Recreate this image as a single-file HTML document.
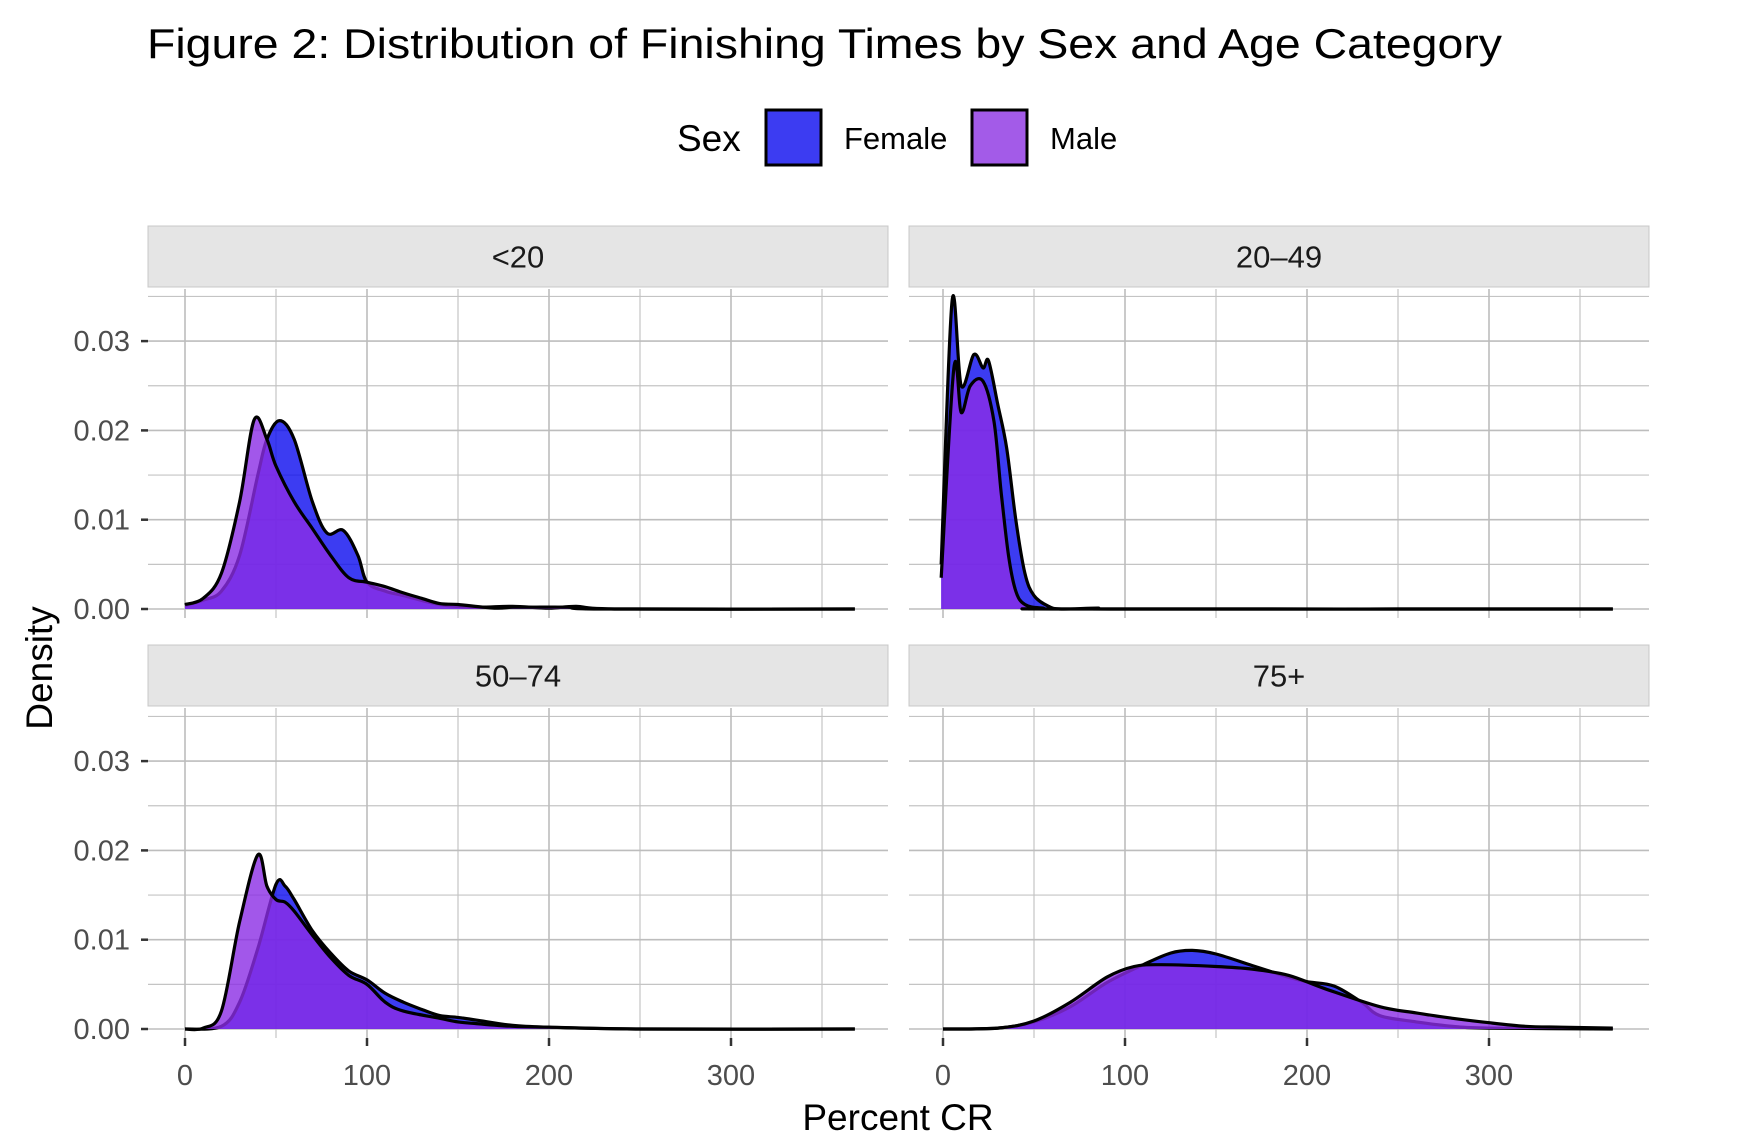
<!DOCTYPE html>
<html><head><meta charset="utf-8"><style>
html,body{margin:0;padding:0;background:#fff;}
svg{display:block;font-family:"Liberation Sans",Arial,sans-serif;}
</style></head><body>
<svg id="chart" width="1760" height="1144" viewBox="0 0 1760 1144" xmlns="http://www.w3.org/2000/svg">
<text x="147" y="58" font-size="42" fill="#000" textLength="1355" lengthAdjust="spacingAndGlyphs">Figure 2: Distribution of Finishing Times by Sex and Age Category</text>
<g>
<text x="677" y="151" font-size="37" fill="#000">Sex</text>
<rect x="766" y="110" width="55" height="55" fill="#3c3cf2" stroke="#000" stroke-width="3"/>
<text x="844" y="149" font-size="31" fill="#000">Female</text>
<rect x="972" y="110" width="55" height="55" fill="#a35be8" stroke="#000" stroke-width="3"/>
<text x="1050" y="149" font-size="31" fill="#000">Male</text>
</g>
<text transform="translate(52,668) rotate(-90)" text-anchor="middle" font-size="37" fill="#000">Density</text>
<text x="898" y="1130" text-anchor="middle" font-size="37" fill="#000">Percent CR</text>
<g id="panels"></g>
</svg>
<script>
const panelNames = ["<20", "20\u201349", "50\u201374", "75+"];
const lt20X = [0,10,20,30,40,45,52,60,70,78,87,95,100,110,120,140,160,180,200,215,240,368];
const lt20F = [0.0004,0.001,0.002,0.006,0.015,0.019,0.0211,0.019,0.012,0.0085,0.0088,0.006,0.003,0.002,0.0015,0.0005,0.0002,0.0003,0.0001,0.0003,0,0];
const lt20MX = [0,10,20,30,38,45,50,60,70,80,90,100,110,120,130,140,150,170,180,190,210,230,368];
const lt20M = [0.0005,0.0012,0.004,0.012,0.0212,0.019,0.016,0.012,0.009,0.006,0.0035,0.003,0.0025,0.0018,0.0012,0.0006,0.0005,0.0001,0.0002,0.0002,0.0002,0,0];
const a20X = [-1,5,10,17,22,25,30,35,40,45,50,58,65,85,100,368];
const a20F = [0.005,0.0345,0.025,0.0285,0.027,0.0278,0.023,0.018,0.010,0.004,0.0015,0.0003,0,0.0001,0,0];
const a20MX = [-1,6,10,15,22,28,32,36,40,45,55,70,368];
const a20M = [0.0035,0.027,0.022,0.025,0.0255,0.021,0.013,0.006,0.002,0.0005,0.0001,0,0];
const a50X = [0,20,30,40,50,55,60,70,80,90,100,110,120,130,140,150,160,180,200,250,368];
const a50F = [0,0.0003,0.003,0.009,0.0162,0.016,0.0145,0.011,0.0085,0.0065,0.0055,0.004,0.003,0.0022,0.0015,0.0013,0.0010,0.0004,0.0002,0,0];
const a50MX = [0,10,20,30,40,45,50,55,60,70,80,90,100,110,120,140,150,160,180,200,250,368];
const a50M = [0,0.0001,0.002,0.012,0.0195,0.016,0.0145,0.0142,0.0132,0.0105,0.008,0.006,0.005,0.003,0.002,0.0012,0.0008,0.0006,0.0003,0.0002,0,0];
const a75X = [0,30,50,70,90,110,125,137,150,170,190,200,215,230,240,260,280,300,368];
const a75F = [0,0.0001,0.0008,0.0025,0.0052,0.0072,0.0085,0.0088,0.0084,0.0071,0.0058,0.0053,0.0048,0.003,0.0015,0.0008,0.0003,0.0001,0];
const a75MX = [0,30,50,70,90,105,120,150,170,190,210,240,260,280,300,320,340,368];
const a75M = [0,0.0001,0.0009,0.003,0.0058,0.007,0.0072,0.007,0.0067,0.006,0.0045,0.0025,0.0018,0.0012,0.0007,0.0003,0.0002,0.0001];
const xTicks = [0,100,200,300];
const xMinor = [50,150,250,350];
const yTicks = [0,0.01,0.02,0.03];
const yTickLabels = ["0.00","0.01","0.02","0.03"];
const yMinor = [0.005,0.015,0.025,0.035];

const NS = "http://www.w3.org/2000/svg";
const root = document.getElementById("panels");
function mk(tag, attrs, parent){const e=document.createElementNS(NS,tag);for(const k in attrs)e.setAttribute(k,attrs[k]);parent.appendChild(e);return e;}
const layout = [
 {x0:148,x1:888,sy0:226,sy1:287,py0:289,py1:618,xZero:185,yZero:609,xdata:[lt20X,lt20MX],ydata:[lt20F,lt20M],left:true,bottom:false},
 {x0:909,x1:1649,sy0:226,sy1:287,py0:289,py1:618,xZero:943,yZero:609,xdata:[a20X,a20MX],ydata:[a20F,a20M],left:false,bottom:false},
 {x0:148,x1:888,sy0:645,sy1:706,py0:708,py1:1038,xZero:185,yZero:1029,xdata:[a50X,a50MX],ydata:[a50F,a50M],left:true,bottom:true},
 {x0:909,x1:1649,sy0:645,sy1:706,py0:708,py1:1038,xZero:943,yZero:1029,xdata:[a75X,a75MX],ydata:[a75F,a75M],left:false,bottom:true}
];
const fills = ["rgba(11,11,239,0.8)","rgba(139,45,229,0.8)"];
const seriesNames = ["female","male"];
function smooth(pts){
 let d="M"+pts[0][0]+","+pts[0][1];
 for(let i=0;i<pts.length-1;i++){
  const p0=pts[Math.max(0,i-1)],p1=pts[i],p2=pts[i+1],p3=pts[Math.min(pts.length-1,i+2)];
  const c1x=p1[0]+(p2[0]-p0[0])/6,c1y=p1[1]+(p2[1]-p0[1])/6;
  const c2x=p2[0]-(p3[0]-p1[0])/6,c2y=p2[1]-(p3[1]-p1[1])/6;
  d+=" C"+c1x.toFixed(1)+","+c1y.toFixed(1)+" "+c2x.toFixed(1)+","+c2y.toFixed(1)+" "+p2[0].toFixed(1)+","+p2[1].toFixed(1);
 }
 return d;
}
layout.forEach((L,pi)=>{
 const g=mk("g",{},root);
 
 
 const sx=v=>L.xZero+v*1.82;
 const sy=v=>L.yZero-v*8930;
 const strip=mk("rect",{x:L.x0,y:L.sy0,width:L.x1-L.x0,height:L.sy1-L.sy0,fill:"#e5e5e5",stroke:"#c8c8c8","stroke-width":1},g);
 
 
 const st=mk("text",{x:(L.x0+L.x1)/2,y:(L.sy0+L.sy1)/2+11,"text-anchor":"middle","font-size":31,fill:"#1a1a1a"},g);
 st.textContent=panelNames[pi];
 
 
 yMinor.forEach(v=>{const l=mk("line",{x1:L.x0,x2:L.x1,y1:sy(v),y2:sy(v),stroke:"#c4c4c4","stroke-width":1.2},g);
  });
 xMinor.forEach(v=>{const l=mk("line",{x1:sx(v),x2:sx(v),y1:L.py0,y2:L.py1,stroke:"#c4c4c4","stroke-width":1.2},g);
  });
 yTicks.forEach((v,i)=>{const l=mk("line",{x1:L.x0,x2:L.x1,y1:sy(v),y2:sy(v),stroke:"#bdbdbd","stroke-width":1.6},g);
  
  if(L.left){
   const t=mk("line",{x1:L.x0-7,x2:L.x0,y1:sy(v),y2:sy(v),stroke:"#333","stroke-width":2.5},g);
   
   const tx=mk("text",{x:L.x0-18,y:sy(v)+10,"text-anchor":"end","font-size":29,fill:"#4d4d4d"},g);
   tx.textContent=yTickLabels[i];
   
  }});
 xTicks.forEach(v=>{const l=mk("line",{x1:sx(v),x2:sx(v),y1:L.py0,y2:L.py1,stroke:"#bdbdbd","stroke-width":1.6},g);
  
  if(L.bottom){
   const t=mk("line",{x1:sx(v),x2:sx(v),y1:L.py1,y2:L.py1+8,stroke:"#333","stroke-width":2.5},g);
   
   const tx=mk("text",{x:sx(v),y:L.py1+47,"text-anchor":"middle","font-size":29,fill:"#4d4d4d"},g);
   tx.textContent=String(v);
   
  }});
 [0,1].forEach(s=>{
  const xs=L.xdata[s],ys=L.ydata[s];
  const pts=xs.map((x,i)=>[sx(x),sy(ys[i])]);
  const line=smooth(pts);
  const area=line+" L"+sx(xs[xs.length-1]).toFixed(1)+","+sy(0)+" L"+sx(xs[0]).toFixed(1)+","+sy(0)+" Z";
  const a=mk("path",{d:area,fill:fills[s],stroke:"none"},g);
  
  
  const o=mk("path",{d:line,fill:"none",stroke:"#000","stroke-width":3.2,"stroke-linejoin":"round"},g);
  
  
 });
});
</script>
</body></html>
